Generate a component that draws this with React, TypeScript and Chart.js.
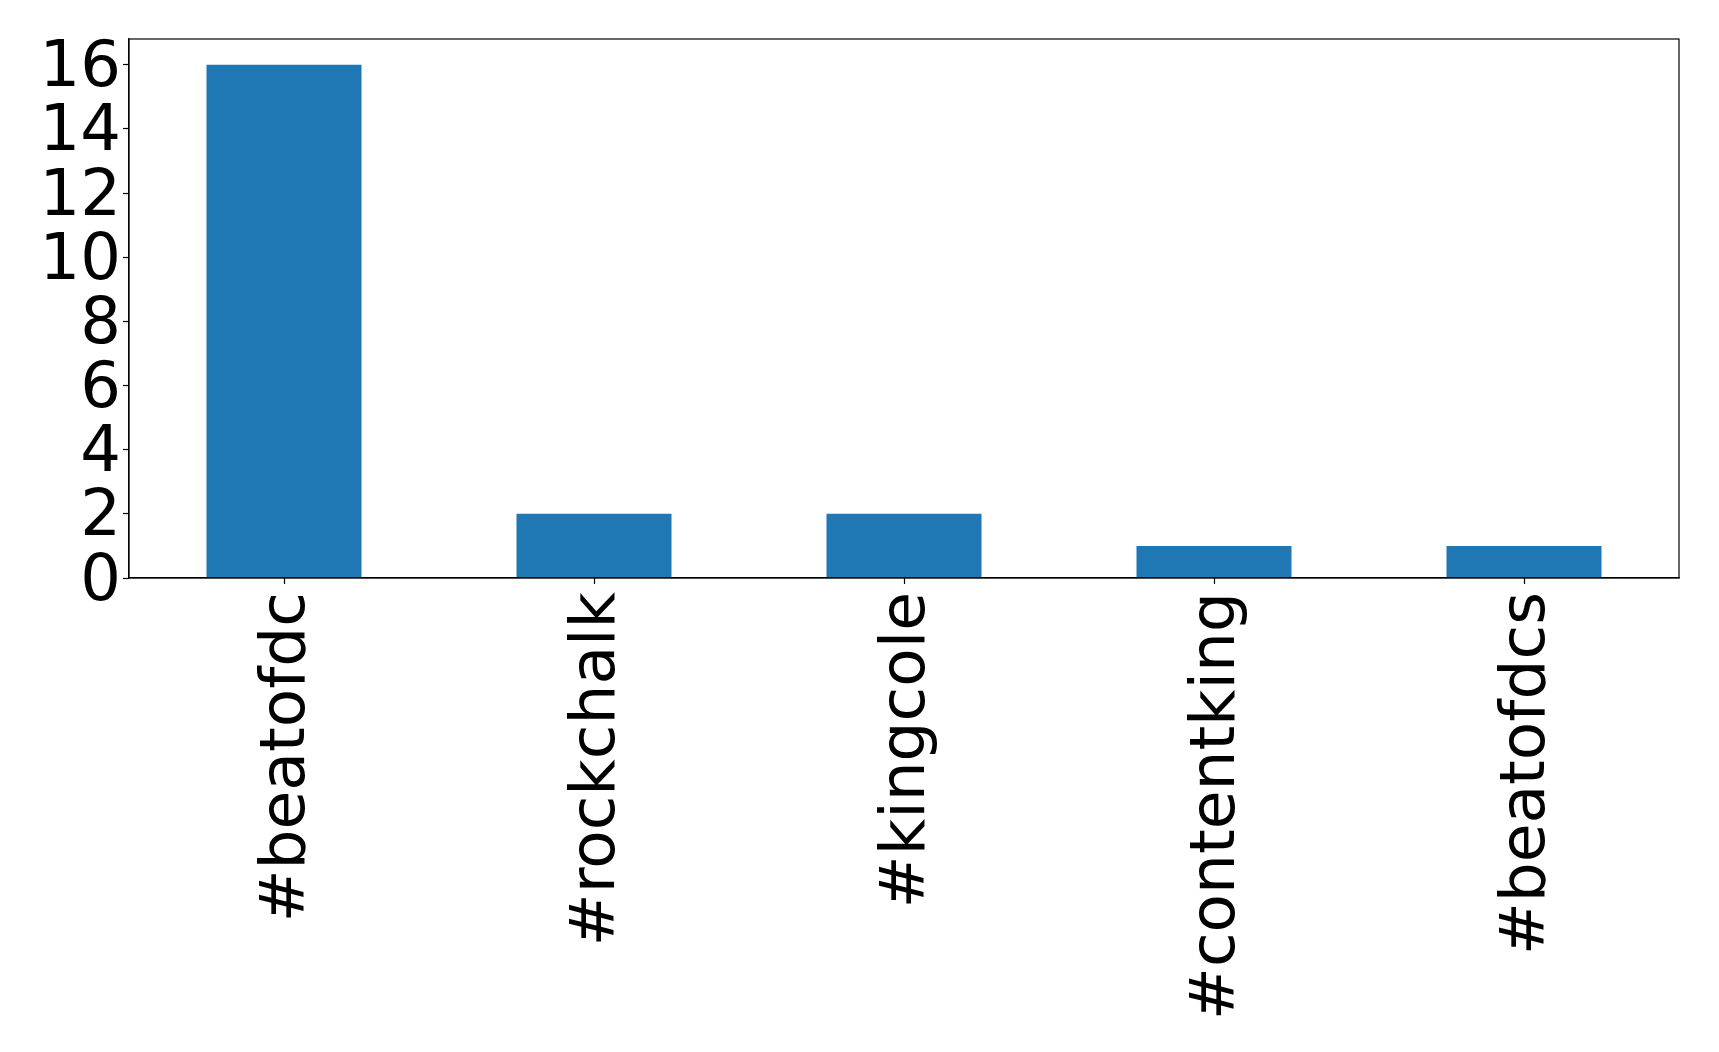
import React, { useEffect, useRef } from "react";
import { Chart, registerables } from "chart.js";

Chart.register(...registerables);

const categories = ["#beatofdc", "#rockchalk", "#kingcole", "#contentking", "#beatofdcs"];
const counts = [16, 2, 2, 1, 1];
const yTicks = [0, 2, 4, 6, 8, 10, 12, 14, 16];

const W = 1719;
const H = 1052;
const PLOT_LEFT = 129;
const PLOT_RIGHT = 1679;
const PLOT_TOP = 39;
const PLOT_BOTTOM = 578;

const framePlugin = {
  id: "frame",
  afterDraw(chart: any) {
    const { ctx, chartArea } = chart;
    ctx.save();
    ctx.strokeStyle = "#000";
    ctx.lineWidth = 1.2;
    ctx.strokeRect(chartArea.left, chartArea.top, chartArea.right - chartArea.left, chartArea.bottom - chartArea.top);
    ctx.restore();
  },
};

export default function App() {
  const ref = useRef<HTMLCanvasElement | null>(null);
  useEffect(() => {
    if (!ref.current) return;
    const xFont = { family: "DejaVu Sans", size: 63 };
    const yFont = { family: "DejaVu Sans", size: 64 };
    const chart = new Chart(ref.current, {
      type: "bar",
      data: {
        labels: categories,
        datasets: [
          {
            data: counts,
            backgroundColor: "#1f77b4",
            borderWidth: 0,
            barPercentage: 0.5,
            categoryPercentage: 1.0,
          },
        ],
      },
      options: {
        animation: false,
        responsive: false,
        maintainAspectRatio: false,
        layout: { padding: { top: PLOT_TOP, right: W - PLOT_RIGHT, left: 0, bottom: 0 } },
        plugins: { legend: { display: false }, tooltip: { enabled: false } },
        scales: {
          x: {
            offset: true,
            grid: { display: true, offset: false, drawOnChartArea: false, drawTicks: true, tickLength: 6, tickColor: "#000", tickWidth: 1.2 },
            border: { display: true, color: "#000", width: 1.2 },
            ticks: { color: "#000", font: xFont, minRotation: 90, maxRotation: 90, padding: 8, autoSkip: false, labelOffset: 4 },
            afterFit(scale: any) {
              scale.height = H - PLOT_BOTTOM;
              scale.paddingLeft = 0;
              scale.paddingRight = 0;
            },
          },
          y: {
            min: 0,
            max: 16.8,
            grid: { display: true, drawOnChartArea: false, drawTicks: true, tickLength: 6, tickColor: "#000", tickWidth: 1.2 },
            border: { display: true, color: "#000", width: 1.2 },
            ticks: { color: "#000", font: yFont, stepSize: 2, includeBounds: false, padding: 2, autoSkip: false, labelOffset: 5 },
            afterBuildTicks(scale: any) {
              scale.ticks = yTicks.map((v) => ({ value: v }));
            },
            afterFit(scale: any) {
              scale.width = PLOT_LEFT;
              scale.paddingTop = 0;
              scale.paddingBottom = 0;
            },
          },
        },
      },
      plugins: [framePlugin],
    });
    return () => chart.destroy();
  }, []);
  return (
    <div style={{ position: "fixed", left: 0, top: 0, width: W, height: H, background: "#fff" }}>
      <canvas ref={ref} width={W} height={H} style={{ width: W, height: H }} />
    </div>
  );
}
